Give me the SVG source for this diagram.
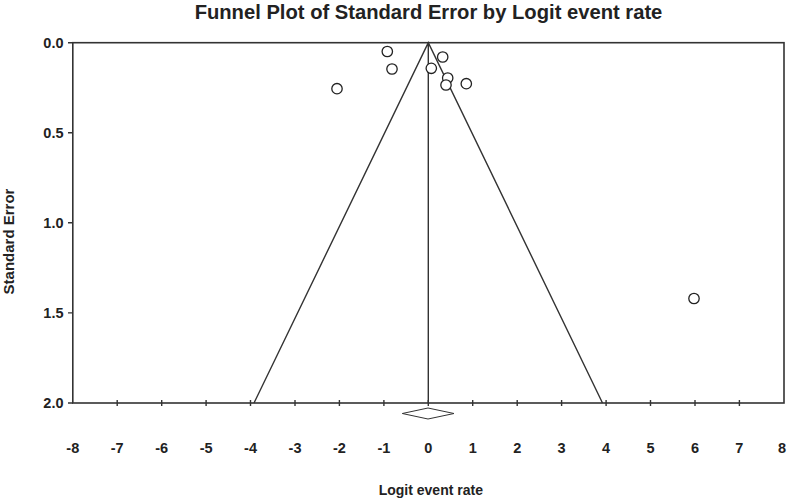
<svg xmlns="http://www.w3.org/2000/svg" width="787" height="498" viewBox="0 0 787 498">
<style>
.ax{fill:none;stroke:#333;stroke-width:1.6}
.ln{fill:none;stroke:#333;stroke-width:1.4}
.pt{fill:#fff;stroke:#222;stroke-width:1.3}
.tl{font-family:"Liberation Sans",Arial,sans-serif;font-weight:bold;font-size:14.5px;fill:#222}
.lb{font-family:"Liberation Sans",Arial,sans-serif;font-weight:bold;fill:#222}
</style>
<rect width="787" height="498" fill="#fff"/>
<text class="lb" x="428.5" y="18.5" font-size="20.2" text-anchor="middle">Funnel Plot of Standard Error by Logit event rate</text>
<g id="axes">
<rect class="ax" x="72.8" y="42.7" width="711.2" height="360.3"/>
<g class="ln">
<path d="M68 42.7H73M68 132.8H73M68 222.8H73M68 312.9H73M68 403H73"/>
<path d="M117.2 400V406M161.7 400V406M206.1 400V406M250.5 400V406M295 400V406M339.4 400V406M383.9 400V406M428.3 400V406M472.7 400V406M517.2 400V406M561.6 400V406M606.1 400V406M650.5 400V406M695 400V406M739.4 400V406"/>
</g>
<g class="tl" text-anchor="end">
<text x="63.5" y="48">0.0</text>
<text x="63.5" y="138">0.5</text>
<text x="63.5" y="228">1.0</text>
<text x="63.5" y="318">1.5</text>
<text x="63.5" y="408">2.0</text>
</g>
<g class="tl" text-anchor="middle">
<text x="72.8" y="452.5">-8</text>
<text x="117.2" y="452.5">-7</text>
<text x="161.7" y="452.5">-6</text>
<text x="206.1" y="452.5">-5</text>
<text x="250.5" y="452.5">-4</text>
<text x="295" y="452.5">-3</text>
<text x="339.4" y="452.5">-2</text>
<text x="383.9" y="452.5">-1</text>
<text x="428.3" y="452.5">0</text>
<text x="472.7" y="452.5">1</text>
<text x="517.2" y="452.5">2</text>
<text x="561.6" y="452.5">3</text>
<text x="606.1" y="452.5">4</text>
<text x="650.5" y="452.5">5</text>
<text x="695" y="452.5">6</text>
<text x="739.4" y="452.5">7</text>
<text x="782" y="452.5">8</text>
</g>
<text class="lb" x="430.8" y="495" font-size="14" text-anchor="middle">Logit event rate</text>
<text class="lb" font-size="15" text-anchor="middle" transform="translate(13.5 241.5) rotate(-90)">Standard Error</text>
</g>
<g id="funnel">
<path class="ln" d="M254 403L428.3 42.7L602.5 403M428.3 42.7V403"/>
</g>
<g id="summary">
<path fill="#fff" stroke="#333" stroke-width="1" d="M402.3 413.5L428 408L454 413.5L428 419Z"/>
</g>
<g id="studies">
<circle class="pt" cx="387.3" cy="51.5" r="5.2"/>
<circle class="pt" cx="392" cy="69" r="5.2"/>
<circle class="pt" cx="442.7" cy="57" r="5.2"/>
<circle class="pt" cx="431.3" cy="68.3" r="5.2"/>
<circle class="pt" cx="447.7" cy="78" r="5.2"/>
<circle class="pt" cx="446" cy="85" r="5.2"/>
<circle class="pt" cx="466.3" cy="83.7" r="5.2"/>
<circle class="pt" cx="337" cy="88.7" r="5.2"/>
<circle class="pt" cx="694" cy="298.5" r="5.2"/>
</g>
</svg>
